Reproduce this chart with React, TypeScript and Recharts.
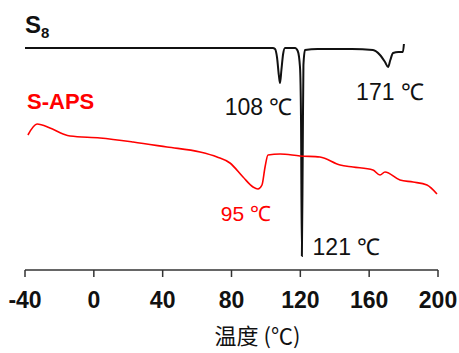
import { LineChart, Line, XAxis, YAxis, ReferenceDot } from "recharts"

// S8 trace
const s8Temp = [-40, 0, 60, 104, 105.3, 106.5, 107.5, 108.2, 109, 110, 111.1, 116.9, 118.5, 119.8, 120.4, 120.9, 121.4, 121.8, 122.7, 130, 150, 162.2, 166.3, 169.2, 171, 172.3, 173.9, 177, 179.6, 180.2]
const s8Signal = [222, 222, 222, 222, 221, 212, 195, 187, 200, 216, 222, 222, 219, 203, 150, 14, 120, 205, 220, 221, 221, 220, 215, 208, 203, 210, 217, 218, 218, 226]

// S-APS trace
const sapsTemp = [-38.3, -33, -25.5, -17.9, -13.8, 3.6, 22.8, 42.5, 61.7, 71.6, 79.1, 86.7, 92.5, 95.4, 97.7, 99.5, 101.2, 108.2, 119.8, 131.4, 143.1, 150.6, 162.2, 166.3, 169.2, 177.9, 185.5, 193.6, 199.4]
const sapsSignal = [135, 146, 142, 136, 134, 132, 128, 123, 118, 113, 107, 93, 83, 81, 85, 103, 115, 116, 114, 113, 105, 103, 100, 95, 98, 90, 88, 85, 76]

const xTicks = [-40, 0, 40, 80, 120, 160, 200]

const s8Data = s8Temp.map((t, i) => ({ t, v: s8Signal[i] }))
const sapsData = sapsTemp.map((t, i) => ({ t, v: sapsSignal[i] }))

const FONT = "'Liberation Sans', Arial, sans-serif"

function Note({ cx, cy, text, color = "#111", anchor = "middle", weight = "normal", size = 23 }: any) {
    return (
        <text x={cx} y={cy} fill={color} textAnchor={anchor} fontSize={size} fontWeight={weight} fontFamily={FONT}>
            {text}
        </text>
    )
}

export default function App() {
    return (
        <div style={{ position: "absolute", left: 0, top: 0, background: "#fff" }}>
            <LineChart width={459} height={353} margin={{ top: 20, right: 21, left: 25, bottom: 0 }}>
                <XAxis
                    type="number"
                    dataKey="t"
                    domain={[-40, 200]}
                    ticks={xTicks}
                    allowDataOverflow
                    height={83}
                    axisLine={{ stroke: "#333", strokeWidth: 1.5 }}
                    tickLine={{ stroke: "#333", strokeWidth: 1.5 }}
                    tickSize={7}
                    tickMargin={15}
                    tick={{ fontSize: 23, fontWeight: "bold", fill: "#111", fontFamily: FONT }}
                    label={({ viewBox }: any) => (
                        <text
                            x={viewBox.x + viewBox.width / 2 + 26}
                            y={viewBox.y + 74}
                            textAnchor="middle"
                            fontSize={22}
                            fill="#111"
                            fontFamily="'Noto Sans CJK SC', sans-serif"
                        >
                            温度 (℃)
                        </text>
                    )}
                />
                <YAxis hide type="number" domain={[0, 250]} />
                <Line
                    data={s8Data}
                    dataKey="v"
                    type="monotone"
                    stroke="#111"
                    strokeWidth={2}
                    dot={false}
                    isAnimationActive={false}
                />
                <Line
                    data={sapsData}
                    dataKey="v"
                    type="monotone"
                    stroke="#ff0000"
                    strokeWidth={1.6}
                    dot={false}
                    isAnimationActive={false}
                />
                <ReferenceDot
                    x={-40}
                    y={237}
                    r={0}
                    shape={(p: any) => (
                        <text x={p.cx} y={p.cy} fill="#111" fontSize={24} fontWeight="bold" fontFamily={FONT}>
                            S<tspan fontSize={15} dy={5}>8</tspan>
                        </text>
                    )}
                />
                <ReferenceDot x={-38.8} y={161} r={0} shape={(p: any) => <Note {...p} text="S-APS" color="#ff0000" anchor="start" weight="bold" size={22} />} />
                <ReferenceDot x={95.7} y={155} r={0} shape={(p: any) => <Note {...p} text="108 ℃" />} />
                <ReferenceDot x={172.1} y={170} r={0} shape={(p: any) => <Note {...p} text="171 ℃" />} />
                <ReferenceDot x={146.8} y={15} r={0} shape={(p: any) => <Note {...p} text="121 ℃" />} />
                <ReferenceDot x={88.4} y={49} r={0} shape={(p: any) => <Note {...p} text="95 ℃" color="#ff0000" size={21} />} />
            </LineChart>
        </div>
    )
}
